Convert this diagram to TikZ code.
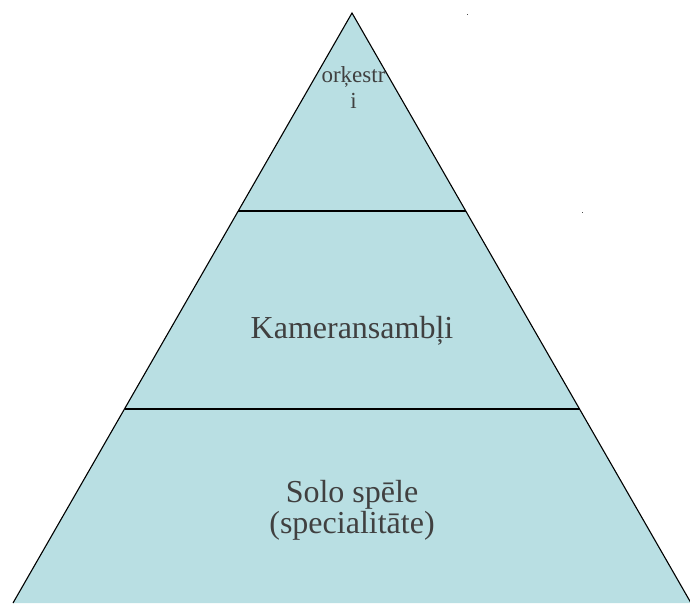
\documentclass[tikz,border=0pt]{standalone}
\usepackage{fontspec}
\setmainfont{Liberation Serif}
\definecolor{bandfill}{RGB}{185,223,227}
\definecolor{txt}{RGB}{64,64,64}
\begin{document}
\begin{tikzpicture}[x=1pt,y=-1pt,
  edge/.style={line width=1.1pt},
  lbl/.style={text=txt,inner sep=0pt,align=center},
  dotmark/.style={fill=black!70,draw=none}]
\useasboundingbox (0,0) rectangle (690,603);
\coordinate (apex) at (352,13);
\coordinate (bl) at (13,603);
\coordinate (br) at (691,603);
\coordinate (l1) at (238.2,211);
\coordinate (r1) at (465.8,211);
\coordinate (l2) at (124.5,409);
\coordinate (r2) at (579.5,409);
\fill[bandfill] (apex) -- (bl) -- (br) -- cycle;
\draw[edge] (bl) -- (apex) -- (br);
\draw[edge] (l1) -- (r1);
\draw[edge] (l2) -- (r2);
\fill[dotmark] (466.5,13.5) rectangle (468,15);
\fill[dotmark] (581.5,211.5) rectangle (583,213);
\node[lbl,font=\fontsize{23}{26}\selectfont,anchor=base] (t1) at (353.5,108) {orķestr\\i};
\node[lbl,font=\fontsize{32}{36}\selectfont,anchor=base] (t2) at (352,338) {Kameransambļi};
\node[lbl,font=\fontsize{32}{31}\selectfont,anchor=base] (t3) at (352,533) {Solo spēle\\(specialitāte)};
\end{tikzpicture}
\end{document}
